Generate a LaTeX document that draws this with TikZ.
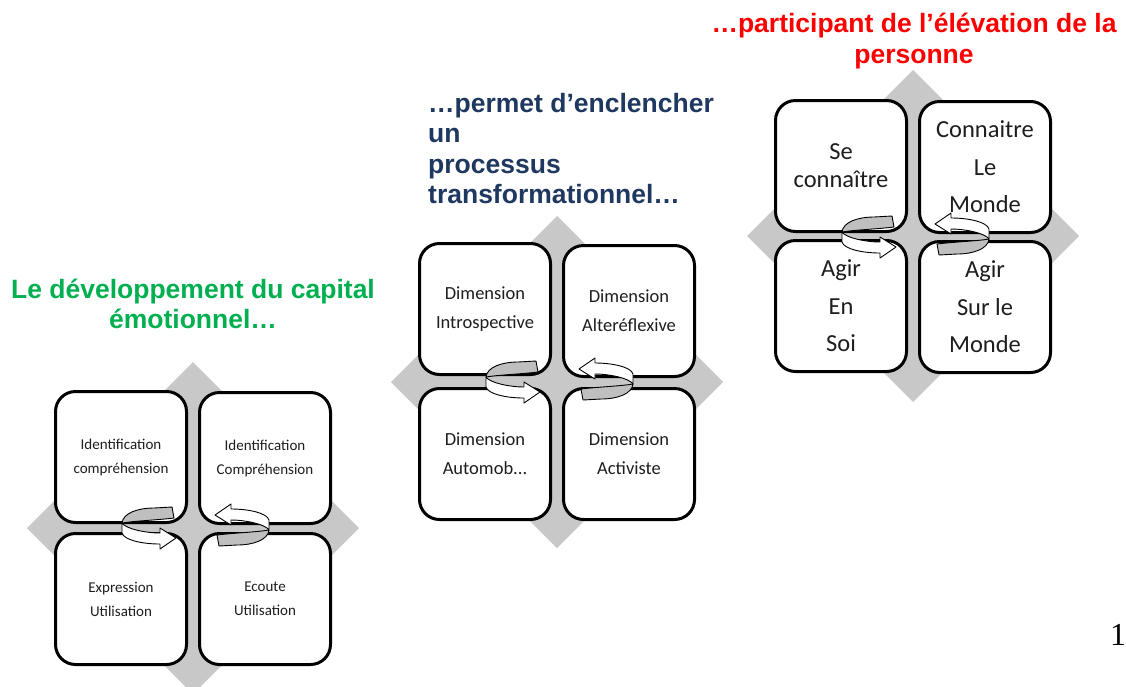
\documentclass[tikz,border=0pt]{standalone}
\usepackage{fontspec}
\newfontfamily\boxfont{Carlito}
\newfontfamily\headfont{Liberation Sans}
\newfontfamily\numfont{Liberation Serif}
\definecolor{diamgray}{RGB}{200,200,200}
\definecolor{arrgray}{RGB}{191,191,191}
\definecolor{headgreen}{RGB}{0,176,80}
\definecolor{headblue}{RGB}{31,56,96}
\definecolor{headred}{RGB}{255,0,0}
\definecolor{boxtext}{RGB}{30,30,30}
\tikzset{
  qbox/.style={draw=black, line width=3pt, rounded corners=20pt, fill=white,
    minimum width=131pt, minimum height=131pt, inner sep=2pt, align=center,
    text=boxtext},
  arrback/.style={fill=arrgray, draw=black, line width=0.9pt, line join=round},
  arrfront/.style={fill=white, draw=black, line width=0.9pt, line join=round},
  diam/.style={fill=diamgray, draw=none},
  fsone/.style={font={\boxfont\fontsize{15}{24}\selectfont}},
  fstwo/.style={font={\boxfont\fontsize{18.5}{29}\selectfont}},
  fsthree/.style={font={\boxfont\fontsize{24.5}{37.5}\selectfont}},
  fsthreeb/.style={font={\boxfont\fontsize{24.5}{28}\selectfont}},
  heading/.style={font={\headfont\bfseries\fontsize{26.5}{30.5}\selectfont}, inner sep=0pt}
}
\newcommand\rotarrow{%
  \filldraw[arrback] (-26,-4) .. controls (-25,-14) and (-10,-19) .. (6,-19)
    -- (24,-20) -- (26,-9) .. controls (10,-7) and (-15,-6) .. (-26,-4) -- cycle;
  \filldraw[arrfront] (-26,-4) .. controls (-22,2) and (-2,6) .. (12,6)
    -- (12,1) -- (28,11) -- (12,22) -- (12,17)
    .. controls (-6,17) and (-24,13) .. (-26,6) -- cycle;}
\newcommand\rotpair[2]{%
  \begin{scope}[shift={(#1-45,#2-1)}]\rotarrow\end{scope}
  \begin{scope}[shift={(#1+50,#2-2)}, rotate=180]\rotarrow\end{scope}}
\newcommand\diamat[2]{%
  \fill[diam] (#1-166,#2) -- (#1,#2-166) -- (#1+166,#2) -- (#1,#2+166) -- cycle;}
\begin{document}
\begin{tikzpicture}[x=1pt,y=-1pt]
\useasboundingbox (0,0) rectangle (1126,686);
\clip (0,0) rectangle (1126,686);
\fill[white] (0,0) rectangle (1126,686);

% ---------- group 1 ----------
\diamat{193}{528}
\node[qbox, fsone] (g1tl) at (121,457) {Identification\\compréhension};
\node[qbox, fsone] (g1tr) at (265,458) {Identification\\Compréhension};
\node[qbox, fsone] (g1bl) at (121,599) {Expression\\Utilisation};
\node[qbox, fsone] (g1br) at (265,599) {Ecoute\\Utilisation};
\rotpair{193}{528}

% ---------- group 2 ----------
\diamat{557}{382}
\node[qbox, fstwo] (g2tl) at (485,309) {Dimension\\Introspective};
\node[qbox, fstwo] (g2tr) at (629,311) {Dimension\\Alteréflexive};
\node[qbox, fstwo] (g2bl) at (485,454) {Dimension\\Automob...};
\node[qbox, fstwo] (g2br) at (629,454) {Dimension\\Activiste};
\rotpair{557}{382}

% ---------- group 3 ----------
\diamat{913}{236}
\node[qbox, fsthreeb] (g3tl) at (841,166) {Se\\connaître};
\node[qbox, fsthree] (g3tr) at (985,167) {Connaitre\\Le\\Monde};
\node[qbox, fsthree] (g3bl) at (841,306) {Agir\\En\\Soi};
\node[qbox, fsthree] (g3br) at (985,307) {Agir\\Sur le\\Monde};
\rotpair{913}{237}

% ---------- headings (base anchor = last line baseline) ----------
\node[heading, text=headgreen, align=center, anchor=base] (h1) at (193,328.5)
  {Le développement du capital\\émotionnel…};
\node[heading, text=headblue, align=left, anchor=base west] (h2) at (428,203.5)
  {…permet d’enclencher\\un\\processus\\transformationnel…};
\node[heading, text=headred, align=center, anchor=base] (h3) at (914,63)
  {…participant de l’élévation de la\\personne};
\node[font={\numfont\fontsize{32}{32}\selectfont}, anchor=base, inner sep=0pt] (pg) at (1118,645) {1};
\end{tikzpicture}
\end{document}
